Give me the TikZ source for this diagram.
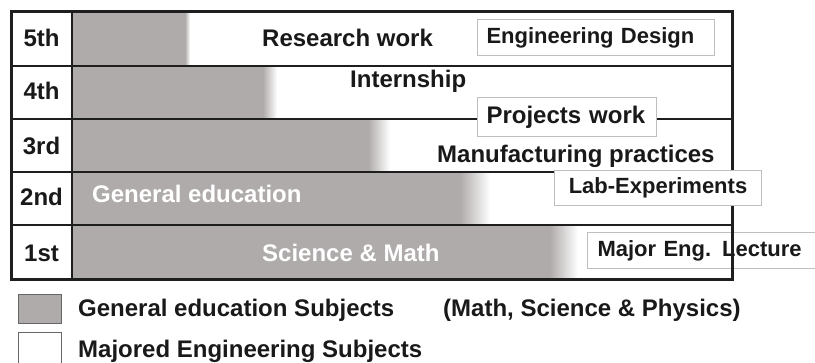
\documentclass[tikz,border=0pt]{standalone}
\usepackage{fontspec}
\setmainfont{Liberation Sans}
\definecolor{gened}{RGB}{175,171,170}
\definecolor{framegray}{RGB}{30,30,30}
\newcommand{\yrfont}{\fontsize{24}{28}\selectfont\bfseries}
\newcommand{\tagfont}{\fontsize{22}{26}\selectfont\bfseries}
\begin{document}
\begin{tikzpicture}[x=1pt, y=-1pt,
    txt/.style={anchor=base west, inner sep=0pt, font=\yrfont, text=black!90},
    tagbox/.style={draw=black!25, fill=white, line width=1pt, font=\tagfont, text=black!90,
        align=left, inner xsep=9pt, inner ysep=0pt, minimum height=36pt, anchor=north west},
    swatch/.style={draw=black!60, line width=1pt, minimum width=43pt, inner sep=0pt, anchor=north west}]
    \useasboundingbox (0,0) rectangle (815,363);
    % Vùng môn đại cương (xám, mờ dần sang phải)
    \foreach \ya/\yb/\xa/\xb in {12/66/185/190, 66/119/263/277, 119/172/368/390, 172/225/460/490, 225/280/550/578}{
        \fill[gened] (72,\ya) rectangle (\xa,\yb);
        \shade[left color=gened, right color=white] (\xa,\ya) rectangle (\xb,\yb);
    }
    % Hộp nằm dưới khung
    \node[tagbox, text width=220pt, inner xsep=10pt] (lecture) at (587,232) {Major Eng. Lecture};
    % Khung và các hàng
    \foreach \y in {66,119,172,225}
        \draw[framegray, line width=2pt] (11,\y) -- (732,\y);
    \draw[framegray, line width=2pt] (72,12) -- (72,280);
    \draw[framegray, line width=3pt] (11,12) rectangle (732,280);
    % Hộp nằm trên khung
    \node[tagbox, text width=219pt] (design) at (477,19) {Engineering Design};
    \node[tagbox, text width=161pt, minimum height=39pt, font=\yrfont] (projects) at (477,97) {Projects work};
    \node[tagbox, text width=189pt, minimum height=35pt, align=center] (lab) at (554,170) {Lab-Experiments};
    % Năm học
    \node[txt, anchor=base] (y5) at (41.5,47) {5th};
    \node[txt, anchor=base] (y4) at (41.5,100) {4th};
    \node[txt, anchor=base] (y3) at (41.5,155) {3rd};
    \node[txt, anchor=base] (y2) at (41.5,206) {2nd};
    \node[txt, anchor=base] (y1) at (41.5,262) {1st};
    % Nội dung
    \node[txt] (research) at (262,47) {Research work};
    \node[txt] (intern) at (350,88) {Internship};
    \node[txt] (manuf) at (437,163) {Manufacturing practices};
    \node[txt, text=white] (general) at (92,203) {General education};
    \node[txt, text=white] (scimath) at (262,262) {Science \& Math};
    % Chú thích
    \node[swatch, fill=gened, minimum height=29pt] (swgen) at (18,294) {};
    \node[swatch, fill=white, minimum height=40pt] (swmaj) at (18,332) {};
    \node[txt] (lgen) at (78,317) {General education Subjects};
    \node[txt] (lphys) at (443,317) {(Math, Science \& Physics)};
    \node[txt] (lmaj) at (78,358) {Majored Engineering Subjects};
\end{tikzpicture}
\end{document}
